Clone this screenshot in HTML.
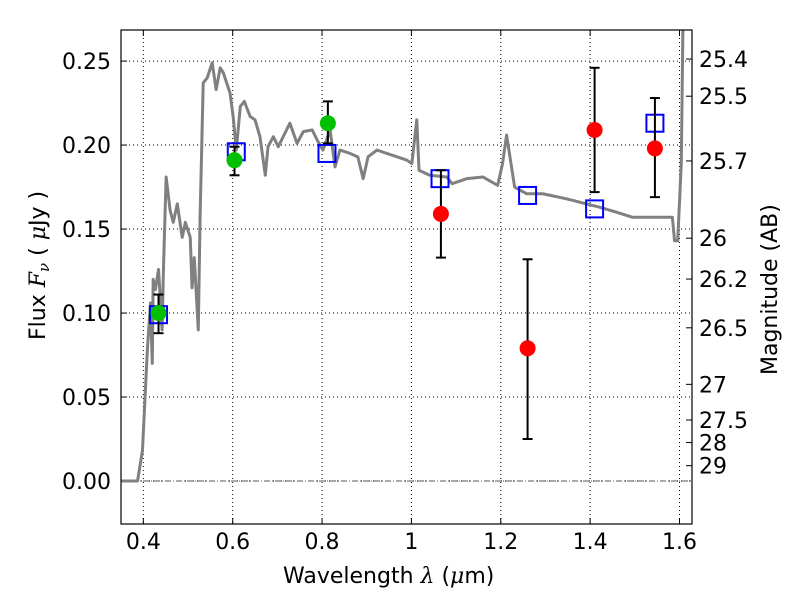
<!DOCTYPE html>
<html><head><meta charset="utf-8"><style>
body{margin:0;background:#fff;}
svg text{font-family:"DejaVu Sans","Liberation Sans",sans-serif;font-size:22px;fill:#000;}
</style></head><body>
<svg id="chart" width="800" height="600" xmlns="http://www.w3.org/2000/svg"></svg>
<script>
const specLam=[0.351,0.387,0.398,0.409,0.416,0.420,0.422,0.427,0.434,0.442,0.445,0.451,0.460,0.467,0.476,0.487,0.494,0.505,0.509,0.514,0.523,0.527,0.534,0.543,0.554,0.563,0.572,0.579,0.594,0.601,0.608,0.617,0.626,0.639,0.650,0.661,0.673,0.679,0.691,0.702,0.713,0.728,0.744,0.758,0.778,0.789,0.802,0.818,0.829,0.840,0.863,0.880,0.892,0.903,0.923,0.945,0.968,0.990,1.001,1.012,1.017,1.041,1.079,1.091,1.124,1.160,1.193,1.204,1.213,1.231,1.258,1.294,1.347,1.421,1.459,1.495,1.571,1.584,1.589,1.596,1.604,1.609];
const specFlux=[0,0,0.018,0.078,0.106,0.070,0.120,0.114,0.126,0.090,0.126,0.181,0.161,0.154,0.165,0.145,0.154,0.145,0.115,0.133,0.090,0.157,0.237,0.240,0.249,0.233,0.246,0.243,0.231,0.217,0.197,0.223,0.226,0.217,0.215,0.205,0.182,0.199,0.205,0.199,0.205,0.213,0.201,0.208,0.209,0.203,0.197,0.209,0.187,0.197,0.195,0.193,0.180,0.193,0.197,0.195,0.193,0.191,0.189,0.215,0.185,0.182,0.181,0.177,0.180,0.181,0.176,0.189,0.206,0.175,0.171,0.171,0.168,0.163,0.160,0.157,0.157,0.157,0.143,0.143,0.189,0.300];
const greenLam=[0.434,0.604,0.813];
const greenFlux=[0.100,0.191,0.213];
const greenLo=[0.088,0.182,0.201];
const greenHi=[0.111,0.199,0.226];
const redLam=[1.066,1.26,1.41,1.545];
const redFlux=[0.159,0.079,0.209,0.198];
const redLo=[0.133,0.025,0.172,0.169];
const redHi=[0.185,0.132,0.246,0.228];
const sqLam=[0.434,0.608,0.811,1.064,1.26,1.41,1.545];
const sqFlux=[0.099,0.196,0.195,0.180,0.170,0.162,0.213];
const xTicks=[0.4,0.6,0.8,1.0,1.2,1.4,1.6];
const xTickLabels=["0.4","0.6","0.8","1","1.2","1.4","1.6"];
const yTicks=[0,0.05,0.10,0.15,0.20,0.25];
const yTickLabels=["0.00","0.05","0.10","0.15","0.20","0.25"];
const magTicks=[25.4,25.5,25.7,26,26.2,26.5,27,27.5,28,29];
const magLabels=["25.4","25.5","25.7","26","26.2","26.5","27","27.5","28","29"];

const L=121,R=692,T=30,B=524;
const X0=0.35,X1=1.628,Y0=-0.0256,Y1=0.2685;
const sx=v=>L+(v-X0)/(X1-X0)*(R-L);
const sy=v=>B-(v-Y0)/(Y1-Y0)*(B-T);
const svg=document.getElementById('chart');
const NS='http://www.w3.org/2000/svg';
function mk(tag,at,parent){const e=document.createElementNS(NS,tag);for(const k in at)e.setAttribute(k,at[k]);(parent||svg).appendChild(e);return e;}

const defs=mk('clipPath',{id:'clip'});mk('rect',{x:L,y:T,width:R-L,height:B-T},defs);
xTicks.forEach((v,i)=>{
  const g=mk('line',{x1:sx(v),x2:sx(v),y1:T,y2:B,stroke:'#000','stroke-width':1,'stroke-dasharray':'1,3'});
  
  
  mk('line',{x1:sx(v),x2:sx(v),y1:B,y2:B-6,stroke:'#000'});
  mk('line',{x1:sx(v),x2:sx(v),y1:T,y2:T+6,stroke:'#000'});
  const t=mk('text',{x:sx(v),y:B+25,'text-anchor':'middle'});t.textContent=xTickLabels[i];
  
  
});
yTicks.forEach((v,i)=>{
  const g=mk('line',{x1:L,x2:R,y1:sy(v),y2:sy(v),stroke:'#000','stroke-width':1,'stroke-dasharray':'1,3'});
  
  
  mk('line',{x1:L,x2:L+6,y1:sy(v),y2:sy(v),stroke:'#000'});
  const t=mk('text',{x:L-10,y:sy(v)+8,'text-anchor':'end'});t.textContent=yTickLabels[i];
  
  
});
const z=mk('line',{x1:L,x2:R,y1:sy(0),y2:sy(0),stroke:'#555','stroke-width':1,'stroke-dasharray':'6,2,1,2'});


magTicks.forEach((m,i)=>{
  const f=Math.pow(10,(23.9-m)/2.5);
  mk('line',{x1:R-6,x2:R,y1:sy(f),y2:sy(f),stroke:'#000'});
  const t=mk('text',{x:R+7,y:sy(f)+8});t.textContent=magLabels[i];
  
  
});
const gp=mk('g',{'clip-path':'url(#clip)'});
const sp=mk('polyline',{points:specLam.map((l,i)=>sx(l)+','+sy(specFlux[i])).join(' '),fill:'none',stroke:'#808080','stroke-width':3,'stroke-linejoin':'round'},gp);


sqLam.forEach((l,i)=>{
  const s=mk('rect',{x:sx(l)-8.5,y:sy(sqFlux[i])-8.5,width:17,height:17,fill:'none',stroke:'#0000ff','stroke-width':2});
  
  
});
function errs(lams,f,lo,hi,col,name){
  lams.forEach((l,i)=>{
    const x=sx(l);
    mk('line',{x1:x,x2:x,y1:sy(lo[i]),y2:sy(hi[i]),stroke:'#000','stroke-width':2});
    mk('line',{x1:x-5,x2:x+5,y1:sy(lo[i]),y2:sy(lo[i]),stroke:'#000','stroke-width':2});
    mk('line',{x1:x-5,x2:x+5,y1:sy(hi[i]),y2:sy(hi[i]),stroke:'#000','stroke-width':2});
    const c=mk('circle',{cx:x,cy:sy(f[i]),r:8,fill:col});
    
    
  });
}
errs(greenLam,greenFlux,greenLo,greenHi,'#00c000','green-data-point');
errs(redLam,redFlux,redLo,redHi,'#ff0000','red-data-point');
const fr=mk('rect',{x:L,y:T,width:R-L,height:B-T,fill:'none',stroke:'#000','stroke-width':1.2});


</script>
<svg width="800" height="600" style="position:absolute;left:0;top:0">
<text x="283" y="583">Wavelength  <tspan font-family="DejaVu Serif" font-style="italic">λ</tspan> (<tspan font-family="DejaVu Serif" font-style="italic">μ</tspan>m)</text>
<text transform="translate(45,340) rotate(-90)">Flux  <tspan font-family="DejaVu Serif" font-style="italic">F</tspan><tspan font-family="DejaVu Serif" font-style="italic" font-size="15" dy="4">ν</tspan><tspan dy="-4">  (  <tspan font-family="DejaVu Serif" font-style="italic">μ</tspan>Jy )</tspan></text>
<text transform="translate(777,375) rotate(-90)">Magnitude (AB)</text>
</svg>
</body></html>
